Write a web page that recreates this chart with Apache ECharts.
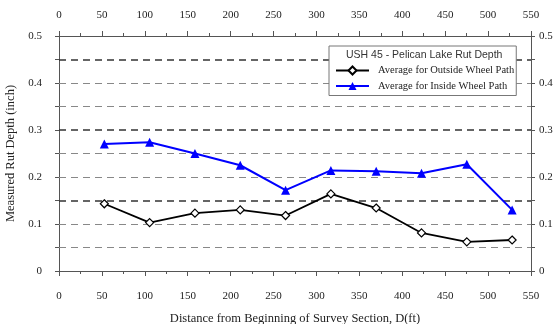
<!DOCTYPE html>
<html>
<head>
<meta charset="utf-8">
<script src="https://cdn.jsdelivr.net/npm/echarts@6/dist/echarts.min.js"></script>
<style>
  html, body { margin: 0; padding: 0; background: #fff; }
  #chart { width: 560px; height: 324px; }
</style>
</head>
<body>
<div id="chart"></div>
<script>
// Station positions along the survey section (ft)
const distances = [52.8, 105.6, 158.4, 211.2, 264, 316.8, 369.6, 422.4, 475.2, 528];
// Average rut depth (inch)
const outsideWheelPath = [0.143, 0.103, 0.123, 0.130, 0.118, 0.164, 0.134, 0.081, 0.062, 0.066];
const insideWheelPath  = [0.270, 0.274, 0.250, 0.225, 0.172, 0.214, 0.212, 0.208, 0.227, 0.130];
// Horizontal reference lines
const lightGridLevels = [0.05, 0.1, 0.2, 0.25, 0.35, 0.4];
const darkGridLevels  = [0.15, 0.3, 0.45];

const seriesNames = ['Average for Outside Wheel Path', 'Average for Inside Wheel Path'];
const chartTitle = 'USH 45 - Pelican Lake Rut Depth';
const xName = 'Distance from Beginning of Survey Section, D(ft)';
const yName = 'Measured Rut Depth (inch)';

const serif = '"Liberation Serif", "DejaVu Serif", serif';
const sans = '"Liberation Sans", Arial, sans-serif';

const axisLineStyle = { color: '#555', width: 1 };
const labelStyle = { fontFamily: serif, fontSize: 11, color: '#222' };

// Both distance scales keep their (empty) name centred so the end labels stay visible
function xAxisDef(position, margin) {
  return {
    type: 'value', position: position, min: 0, max: 550, interval: 50,
    nameLocation: 'middle',
    axisLine: { show: true, onZero: false, lineStyle: axisLineStyle },
    axisTick: { show: true, length: 5, lineStyle: axisLineStyle },
    minorTick: { show: true, splitNumber: 2, length: 3, lineStyle: axisLineStyle },
    axisLabel: Object.assign({ margin: margin,
                 showMinLabel: true, showMaxLabel: true, hideOverlap: false }, labelStyle),
    splitLine: { show: false }
  };
}
function yAxisDef(position, margin) {
  return {
    type: 'value', position: position, min: 0, max: 0.5, interval: 0.1,
    nameLocation: 'middle',
    axisLine: { show: true, onZero: false, lineStyle: axisLineStyle },
    axisTick: { show: true, length: 4, lineStyle: axisLineStyle },
    minorTick: { show: true, splitNumber: 2, length: 4, lineStyle: axisLineStyle },
    axisLabel: Object.assign({ margin: margin,
                 showMinLabel: true, showMaxLabel: true, hideOverlap: false }, labelStyle),
    splitLine: { show: false }
  };
}

const xBottom = Object.assign(xAxisDef('bottom', 20), {
  name: xName, nameGap: 41,
  nameTextStyle: { fontFamily: serif, fontSize: 12.5, color: '#222' }
});
const yLeft = Object.assign(yAxisDef('left', 17), {
  name: yName, nameGap: 38,
  nameTextStyle: { fontFamily: serif, fontSize: 12.5, color: '#222' }
});

function gridLines(levels, color, width) {
  return levels.map(v => ({
    yAxis: v,
    lineStyle: { color: color, width: width, type: [7, 5] }
  }));
}

const chart = echarts.init(document.getElementById('chart'), null, { renderer: 'canvas' });
chart.setOption({
  animation: false,
  backgroundColor: '#fff',
  grid: { left: 59, right: 29, top: 36, bottom: 53, containLabel: false, outerBoundsMode: 'none' },
  title: {
    text: chartTitle, left: 341, top: 45, z: 20,
    textStyle: { fontFamily: sans, fontSize: 10.5, fontWeight: 'normal', color: '#333' }
  },
  legend: {
    orient: 'vertical', left: 329, top: 46, z: 15,
    padding: [19, 2, 4, 6],
    itemWidth: 33, itemHeight: 10, itemGap: 4.5,
    backgroundColor: '#fff', borderColor: '#777', borderWidth: 1,
    textStyle: { fontFamily: serif, fontSize: 10.5, color: '#222', padding: [0, 0, 0, 4] },
    data: seriesNames
  },
  xAxis: [xBottom, xAxisDef('top', 15)],
  yAxis: [yLeft, yAxisDef('right', 8)],
  series: [
    {
      name: seriesNames[0], type: 'line', xAxisIndex: 0, yAxisIndex: 0,
      data: distances.map((d, i) => [d, outsideWheelPath[i]]),
      symbol: 'diamond', symbolSize: 8,
      lineStyle: { color: '#000', width: 1.8 },
      itemStyle: { color: '#fff', borderColor: '#000', borderWidth: 1.2 },
      z: 3,
      markLine: {
        silent: true, symbol: 'none', label: { show: false }, z: 1,
        data: gridLines(lightGridLevels, '#888', 1.2).concat(gridLines(darkGridLevels, '#333', 1.6))
      }
    },
    {
      name: seriesNames[1], type: 'line', xAxisIndex: 0, yAxisIndex: 0,
      data: distances.map((d, i) => [d, insideWheelPath[i]]),
      symbol: 'triangle', symbolSize: 9,
      lineStyle: { color: '#0000ff', width: 2 },
      itemStyle: { color: '#0000ff' },
      z: 3
    }
  ]
});
</script>
</body>
</html>
